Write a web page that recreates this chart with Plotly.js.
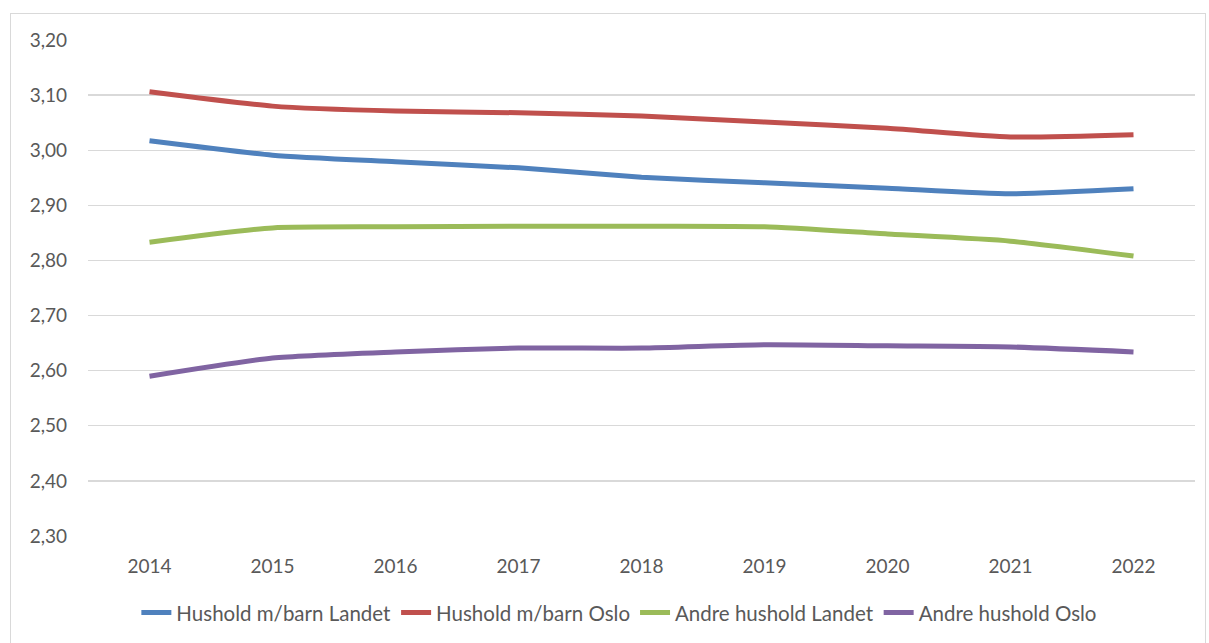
<!DOCTYPE html>
<html>
<head>
<meta charset="utf-8">
<script src="https://cdn.plot.ly/plotly-3.0.1.min.js"></script>
<style>
html,body{margin:0;padding:0;background:#fff;}
#frame{position:absolute;left:10px;top:13px;width:1196px;height:640px;border:1px solid #d9d9d9;box-sizing:border-box;pointer-events:none;z-index:5;}
#chart{width:1209px;height:643px;}
</style>
</head>
<body>
<div id="frame"></div>
<div id="chart"></div>
<script>
const years = ['2014','2015','2016','2017','2018','2019','2020','2021','2022'];
const barnLandet = [3.017, 2.991, 2.979, 2.968, 2.951, 2.941, 2.931, 2.921, 2.930];
const barnOslo = [3.106, 3.080, 3.071, 3.068, 3.062, 3.051, 3.040, 3.024, 3.028];
const andreLandet = [2.833, 2.859, 2.861, 2.862, 2.862, 2.861, 2.848, 2.835, 2.808];
const andreOslo = [2.590, 2.623, 2.634, 2.641, 2.641, 2.647, 2.645, 2.643, 2.634];
const seriesNames = ['Hushold m/barn Landet','Hushold m/barn Oslo','Andre hushold Landet','Andre hushold Oslo'];
const seriesColors = ['#4F81BD','#C0504D','#9BBB59','#8064A2'];
const seriesData = [barnLandet, barnOslo, andreLandet, andreOslo];

const traces = seriesData.map((d,i)=>({
  x: years, y: d, type:'scatter', mode:'lines', name: seriesNames[i],
  line:{color: seriesColors[i], width:5, shape:'spline', smoothing:0.6},
  hoverinfo:'skip'
}));

const font = {family:'Lato, "Open Sans", sans-serif', size:19, color:'#595959'};
const layout = {
  width:1209, height:643,
  margin:{l:88, r:14, t:40, b:107},
  paper_bgcolor:'rgba(0,0,0,0)', plot_bgcolor:'#fff',
  separators:', ',
  font: font,
  showlegend:true,
  legend:{orientation:'h', x:0.48, xanchor:'center', yref:'container', y:0.047, yanchor:'middle', font:{family:font.family, size:20.5, color:'#595959'}, itemwidth:30, tracegroupgap:0},
  xaxis:{type:'category', range:[-0.5, 8.5], showgrid:false, zeroline:false, showline:false, ticks:'', tickfont:font, ticklabelstandoff:17},
  yaxis:{range:[2.30,3.20], dtick:0.1, tick0:2.3, tickformat:'.2f', showgrid:true, gridcolor:'#d9d9d9', gridwidth:1.3, zeroline:false, showline:false, ticks:'', tickfont:font, ticklabelstandoff:20}
};
Plotly.newPlot('chart', traces, layout, {displayModeBar:false, staticPlot:true});
</script>
</body>
</html>
